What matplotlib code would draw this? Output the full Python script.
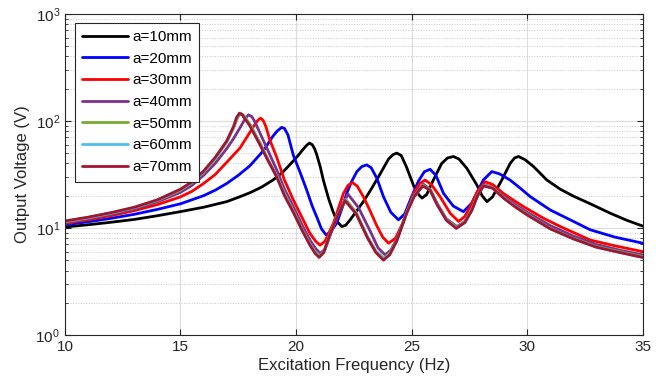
import matplotlib.pyplot as plt
from matplotlib.ticker import LogLocator, FixedLocator

# Reference values (frequency in Hz, voltage in V)
labels = ['a=10mm', 'a=20mm', 'a=30mm', 'a=40mm', 'a=50mm', 'a=60mm', 'a=70mm']
colors = ['#000000', '#0000FF', '#FF0000', '#7E2F8E', '#77AC30', '#4DBEEE', '#A2142F']

f_10 = [10, 11, 12, 13, 14, 15, 16, 17, 17.5, 18, 18.5, 19, 19.45, 20, 20.3, 20.45, 20.58, 20.7,
        20.8, 20.9, 21.05, 21.18, 21.4, 21.6, 21.8, 21.98, 22.15, 22.34, 22.6, 22.91, 23.25, 23.64,
        24.0, 24.2, 24.36, 24.55, 24.78, 25.08, 25.3, 25.45, 25.65, 25.94, 26.3, 26.55, 26.81, 27.05,
        27.39, 27.82, 28.05, 28.26, 28.5, 28.9, 29.26, 29.45, 29.62, 29.9, 30.27, 30.85, 31.43, 32,
        32.73, 33.6, 34.3, 35]
v_10 = [10.2, 10.7, 11.3, 12.0, 13.0, 14.2, 15.6, 17.6, 19.3, 21.3, 24, 28, 33.6, 45, 54, 59, 62, 60,
        55, 48, 37, 28, 19, 14.2, 11.3, 10.3, 10.6, 11.9, 14.2, 17.6, 23, 32,
        44, 48.5, 50, 47.5, 37, 25, 20.5, 19, 20.5, 28, 40, 45, 46.5, 44,
        36, 25.2, 20, 17.6, 19.5, 28, 40, 45, 46.5, 43.5, 37.5, 28, 23, 19.8,
        16.8, 13.7, 11.8, 10.4]

f_20 = [10, 11, 12, 13, 14, 15, 16, 16.5, 17, 17.5, 18, 18.6, 19.0, 19.2, 19.38, 19.5, 19.65, 19.88,
        20.2, 20.46, 20.7, 20.9, 21.1, 21.3, 21.5, 21.76, 22.0, 22.19, 22.4, 22.63, 22.85, 23.06,
        23.25, 23.5, 23.78, 24.1, 24.43, 24.7, 25.0, 25.3, 25.55, 25.8, 26.05, 26.38, 26.8, 27.24,
        27.6, 28.1, 28.47, 28.8, 29.26, 29.7, 30.13, 31.0, 31.86, 32.73, 33.8, 35]
v_20 = [10.7, 11.4, 12.3, 13.4, 14.9, 16.8, 20, 22.5, 26, 31, 38, 53, 72, 81, 87, 85, 74, 48,
        32, 22.6, 16, 12.6, 9.8, 8.6, 9.2, 11.1, 15.5, 21, 27, 33.6, 37.5, 38.8,
        36.5, 29, 19.6, 14, 11.9, 13.5, 19.6, 27.5, 33.5, 35.3, 31, 21, 16, 14.2,
        17, 28, 33.6, 32, 28, 23.5, 19.6, 14.7, 11.9, 9.6, 8.2, 7.2]

f_30 = [10, 11, 12, 13, 14, 15, 15.5, 16, 16.5, 17, 17.58, 18.0, 18.25, 18.38, 18.47, 18.58, 18.7,
        18.87, 19.16, 19.5, 19.88, 20.3, 20.6, 20.85, 21.04, 21.25, 21.62, 22.05, 22.25, 22.45, 22.65,
        22.91, 23.2, 23.49, 23.75, 24.0, 24.3, 24.65, 25.08, 25.35, 25.58, 25.85, 26.23, 26.67, 27.03,
        27.3, 27.53, 27.85, 28.18, 28.5, 28.97, 29.4, 29.84, 30.71, 31.43, 32.73, 33.8, 35]
v_30 = [11.0, 11.9, 13.0, 14.5, 16.5, 19.5, 22, 26, 31.5, 41, 56, 78, 95, 103, 106, 101, 88,
        66, 46, 28, 18.3, 12, 8.9, 7.5, 6.9, 7.5, 11.1, 21, 25, 26.5, 24.5,
        19.6, 14.5, 10.5, 8.2, 7.2, 8.0, 11.5, 21, 26, 28, 25.5, 19.6, 13.7, 11.5,
        12.8, 15.8, 22, 27, 25.5, 21, 18.2, 15.8, 12.3, 10.3, 7.7, 6.8, 6.0]

f_40 = [10, 11, 12, 13, 14, 15, 15.5, 16, 16.5, 17, 17.29, 17.6, 17.8, 17.94, 18.08, 18.2, 18.44,
        18.8, 19.16, 19.5, 19.88, 20.25, 20.6, 20.85, 21.04, 21.25, 21.5, 21.9, 22.25, 22.7, 23.2,
        23.55, 23.85, 24.1, 24.4, 24.8, 25.1, 25.51, 25.8, 26.1, 26.5, 26.96, 27.3, 27.6, 27.9,
        28.15, 28.5, 29.0, 29.5, 30.0, 31.0, 32.0, 33.0, 34.0, 35]
v_40 = [11.2, 12.2, 13.4, 15.0, 17.5, 21.5, 25, 31, 40, 55, 68, 88, 105, 114, 110, 100, 77,
        52, 35, 23, 15.8, 10.8, 7.7, 6.4, 5.8, 6.3, 8.8, 15, 20.6, 15.5, 9.4,
        6.5, 5.6, 6.2, 8.2, 14.5, 20.5, 25.6, 23, 17, 12.2, 10.3, 11.5, 15, 21,
        25.2, 24, 19.5, 16.4, 14, 10.5, 8.4, 7.0, 6.2, 5.6]

f_50 = [10, 11, 12, 13, 14, 15, 15.5, 16, 16.5, 17.0, 17.33, 17.48, 17.6, 17.72, 17.85, 18.05, 18.45,
        18.8, 19.16, 19.5, 19.88, 20.25, 20.6, 20.83, 21.02, 21.2, 21.45, 21.8, 22.15, 22.6, 23.1,
        23.45, 23.8, 24.05, 24.35, 24.8, 25.1, 25.5, 25.8, 26.1, 26.5, 26.95, 27.3, 27.6, 27.85,
        28.12, 28.5, 29.0, 29.5, 30.0, 31.0, 32.0, 33.0, 34.0, 35]
v_50 = [11.4, 12.4, 13.7, 15.4, 18.0, 22.5, 26.5, 33, 44, 63, 89, 108, 118, 114, 104, 90, 62,
        43, 31, 21, 14.5, 9.9, 7.1, 6.0, 5.5, 6.0, 8.6, 13.2, 18.5, 14, 8.2,
        6.1, 5.2, 5.8, 7.6, 14.2, 19.8, 25, 22.8, 16.8, 12, 10.1, 11.4, 14.8, 20.3,
        25, 23.8, 19, 15.8, 13.4, 9.9, 8.0, 6.7, 6.0, 5.4]

f_60 = [10, 11, 12, 13, 14, 15, 15.5, 16, 16.5, 17.0, 17.3, 17.45, 17.57, 17.7, 17.82, 18.02, 18.42,
        18.8, 19.16, 19.5, 19.88, 20.25, 20.6, 20.82, 21.01, 21.2, 21.45, 21.8, 22.13, 22.6, 23.1,
        23.45, 23.79, 24.05, 24.35, 24.8, 25.1, 25.49, 25.8, 26.1, 26.5, 26.94, 27.3, 27.6, 27.85,
        28.11, 28.5, 29.0, 29.5, 30.0, 31.0, 32.0, 33.0, 34.0, 35]
v_60 = [11.5, 12.5, 13.8, 15.5, 18.2, 22.8, 26.8, 33.5, 45, 64, 88, 108, 118, 114, 104, 90, 62,
        42.5, 30.5, 20.5, 14.2, 9.7, 7.0, 5.9, 5.4, 5.9, 8.5, 13.1, 18.2, 13.7, 8.1,
        6.0, 5.1, 5.7, 7.5, 14.1, 19.6, 24.8, 22.6, 16.6, 11.9, 10.0, 11.3, 14.6, 20.1,
        24.8, 23.6, 18.9, 15.7, 13.3, 9.8, 7.9, 6.6, 5.9, 5.3]

f_70 = [10, 11, 12, 13, 14, 15, 15.5, 16, 16.5, 17.0, 17.29, 17.43, 17.55, 17.67, 17.8, 18.0, 18.4,
        18.8, 19.16, 19.5, 19.88, 20.25, 20.6, 20.82, 21.0, 21.2, 21.45, 21.8, 22.12, 22.6, 23.1,
        23.45, 23.78, 24.05, 24.35, 24.8, 25.1, 25.48, 25.8, 26.1, 26.5, 26.93, 27.3, 27.6, 27.85,
        28.1, 28.5, 29.0, 29.5, 30.0, 31.0, 32.0, 33.0, 34.0, 35]
v_70 = [11.6, 12.6, 13.9, 15.6, 18.3, 23, 27, 34, 45.5, 65, 88, 108, 118, 114, 104, 90, 62,
        42, 30, 20, 14, 9.6, 6.9, 5.8, 5.3, 5.9, 8.5, 13, 18, 13.5, 8,
        5.9, 5.0, 5.6, 7.5, 14, 19.5, 24.7, 22.5, 16.5, 11.8, 9.9, 11.2, 14.5, 20,
        24.7, 23.5, 18.8, 15.6, 13.2, 9.8, 7.9, 6.6, 5.9, 5.3]

freqs = [f_10, f_20, f_30, f_40, f_50, f_60, f_70]
volts = [v_10, v_20, v_30, v_40, v_50, v_60, v_70]

plt.rcParams['font.family'] = ['Liberation Sans', 'DejaVu Sans']
plt.rcParams['mathtext.default'] = 'regular'

fig = plt.figure(figsize=(6.62, 3.85), dpi=100)
ax = fig.add_axes([0.098, 0.13, 0.873, 0.834])

for f, v, c, lab in zip(freqs, volts, colors, labels):
    ax.plot(f, v, color=c, lw=2, label=lab, solid_joinstyle='round', solid_capstyle='round')

ax.set_yscale('log')
ax.set_xlim(10, 35)
ax.set_ylim(1, 1000)
ax.xaxis.set_major_locator(FixedLocator([10, 15, 20, 25, 30, 35]))
ax.yaxis.set_major_locator(LogLocator(base=10, numticks=10))
ax.yaxis.set_minor_locator(LogLocator(base=10, subs=range(2, 10), numticks=20))

ax.grid(True, which='major', color='#dcdcdc', lw=0.8, ls='-')
ax.grid(True, which='minor', axis='y', color='#c8c8c8', lw=0.7, ls=':')
ax.set_axisbelow(True)

ax.tick_params(which='both', direction='in', top=True, right=True, labelsize=11, colors='#262626')
ax.tick_params(which='major', length=4)
ax.tick_params(which='minor', length=2)
for s in ax.spines.values():
    s.set_color('#262626')
    s.set_linewidth(0.8)

ax.set_xlabel('Excitation Frequency (Hz)', fontsize=12, color='#262626', labelpad=3)
ax.set_ylabel('Output Voltage (V)', fontsize=12, color='#262626', labelpad=4)

leg = ax.legend(loc='upper left', fontsize=11, handlelength=3.0, handletextpad=0.25,
                fancybox=False, framealpha=1, edgecolor='#262626', borderpad=0.5,
                labelspacing=0.5, borderaxespad=0, bbox_to_anchor=(0.017, 0.973))
leg.get_frame().set_linewidth(0.8)

fig.savefig('out.png', dpi=100)
